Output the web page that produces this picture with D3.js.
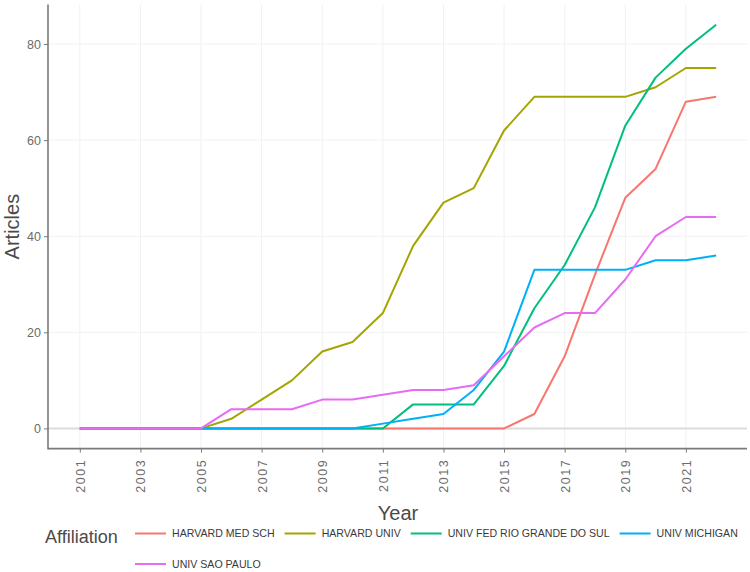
<!DOCTYPE html>
<html>
<head>
<meta charset="utf-8">
<script src="https://cdn.jsdelivr.net/npm/d3@7"></script>
<style>
  body { margin: 0; background: #fff; }
  svg { font-family: "Liberation Sans", Arial, sans-serif; }
</style>
</head>
<body>
<div class="chart"></div>
<script>
// data
var years = d3.range(2001, 2023);
var affiliations = ["HARVARD MED SCH", "HARVARD UNIV", "UNIV FED RIO GRANDE DO SUL", "UNIV MICHIGAN", "UNIV SAO PAULO"];
var colors = ["#F8766D", "#A3A500", "#00BF7D", "#00B0F6", "#E76BF3"];

var harvardMedSch = [0,0,0,0,0,0,0,0,0,0,0,0,0,0,0,3,15,32,48,54,68,69];
var harvardUniv   = [0,0,0,0,0,2,6,10,16,18,24,38,47,50,62,69,69,69,69,71,75,75];
var ufrgs         = [0,0,0,0,0,0,0,0,0,0,0,5,5,5,13,25,34,46,63,73,79,84];
var michigan      = [0,0,0,0,0,0,0,0,0,0,1,2,3,8,16,33,33,33,33,35,35,36];
var saoPaulo      = [0,0,0,0,0,4,4,4,6,6,7,8,8,9,15,21,24,24,31,40,44,44];

var seriesValues = [harvardMedSch, harvardUniv, ufrgs, michigan, saoPaulo];
var xTicks = d3.range(2001, 2022, 2);
var yTicks = [0, 20, 40, 60, 80];

var W = 750, H = 572;
var panel = {left: 48, right: 748, top: 4.6, bottom: 448.6};

var svg = d3.select(".chart").append("svg")
    .attr("width", W)
    .attr("height", H);

// ggplot style expansion (5% on x, 5% on y)
var xPad = (2022 - 2001) * 0.05, yPad = 84 * 0.05;
var x = d3.scaleLinear().domain([2001 - xPad, 2022 + xPad]).range([panel.left, panel.right]);
var y = d3.scaleLinear().domain([-yPad, 84 + yPad]).range([panel.bottom, panel.top]);

// grid
var grid = svg.append("g");
grid.selectAll("line.vg").data(xTicks).enter().append("line")
    .attr("x1", d => x(d)).attr("x2", d => x(d))
    .attr("y1", panel.top).attr("y2", panel.bottom)
    .attr("stroke", "#f1f1f1").attr("stroke-width", 1);
grid.selectAll("line.hg").data(yTicks.filter(d => d !== 0)).enter().append("line")
    .attr("x1", panel.left).attr("x2", panel.right)
    .attr("y1", d => y(d)).attr("y2", d => y(d))
    .attr("stroke", "#f1f1f1").attr("stroke-width", 1);
// zero line
grid.append("line")
    .attr("x1", panel.left).attr("x2", panel.right - 1)
    .attr("y1", y(0)).attr("y2", y(0))
    .attr("stroke", "#dcdcdc").attr("stroke-width", 2);

// axes
var xAxis = svg.append("g")
    .attr("transform", "translate(0," + panel.bottom + ")")
    .call(d3.axisBottom(x).tickValues(xTicks).tickFormat(d3.format("d")).tickSize(4).tickSizeOuter(0));
xAxis.select(".domain").attr("stroke", "#7a7a7a").attr("stroke-width", 1.6)
    .attr("d", "M" + panel.left + ",0H" + (panel.right - 1));
xAxis.selectAll(".tick line").attr("stroke", "#7a7a7a");
xAxis.selectAll(".tick text")
    .attr("fill", "#6b6b6b")
    .attr("font-size", 12.5)
    .attr("letter-spacing", 1.6)
    .attr("transform", "rotate(-90)")
    .attr("text-anchor", "end")
    .attr("x", -10)
    .attr("y", 0)
    .attr("dy", "0.36em");

var yAxis = svg.append("g")
    .attr("transform", "translate(" + panel.left + ",0)")
    .call(d3.axisLeft(y).tickValues(yTicks).tickSize(4).tickSizeOuter(0));
yAxis.select(".domain").attr("stroke", "#7a7a7a").attr("stroke-width", 1.6)
    .attr("d", "M0," + panel.top + "V" + (panel.bottom + 0.8));
yAxis.selectAll(".tick line").attr("stroke", "#7a7a7a");
yAxis.selectAll(".tick text")
    .attr("fill", "#6b6b6b")
    .attr("font-size", 12.5)
    .attr("x", -7);

// lines
var line = d3.line()
    .x((d, i) => x(years[i]))
    .y(d => y(d));

svg.append("g").selectAll("path.series")
    .data(seriesValues).enter().append("path")
    .attr("class", "series")
    .attr("d", line)
    .attr("fill", "none")
    .attr("stroke", (d, i) => colors[i])
    .attr("stroke-width", 2)
    .attr("stroke-linejoin", "round");

// axis titles
svg.append("text")
    .attr("x", (panel.left + panel.right) / 2)
    .attr("y", 520)
    .attr("text-anchor", "middle")
    .attr("font-size", 20)
    .attr("fill", "#4a4a4a")
    .text("Year");

svg.append("text")
    .attr("transform", "translate(19," + ((panel.top + panel.bottom) / 2) + ") rotate(-90)")
    .attr("text-anchor", "middle")
    .attr("font-size", 20)
    .attr("fill", "#4a4a4a")
    .text("Articles");

// legend
var legend = svg.append("g");
legend.append("text")
    .attr("x", 45)
    .attr("y", 542.5)
    .attr("font-size", 18)
    .attr("fill", "#4a4a4a")
    .text("Affiliation");

var lx = 135, ly = 533.5;
affiliations.forEach((name, i) => {
  var item = legend.append("g");
  item.append("line")
      .attr("x1", 0).attr("x2", 31)
      .attr("y1", 0).attr("y2", 0)
      .attr("stroke", colors[i]).attr("stroke-width", 2);
  var t = item.append("text")
      .attr("x", 37)
      .attr("dy", "0.35em")
      .attr("font-size", 10.6)
      .attr("fill", "#3a3a3a")
      .text(name);
  var w = 37 + t.node().getComputedTextLength();
  if (lx + w > W) { lx = 135; ly += 30.5; }
  item.attr("transform", "translate(" + lx + "," + ly + ")");
  lx += w + 10;
});
</script>
</body>
</html>
